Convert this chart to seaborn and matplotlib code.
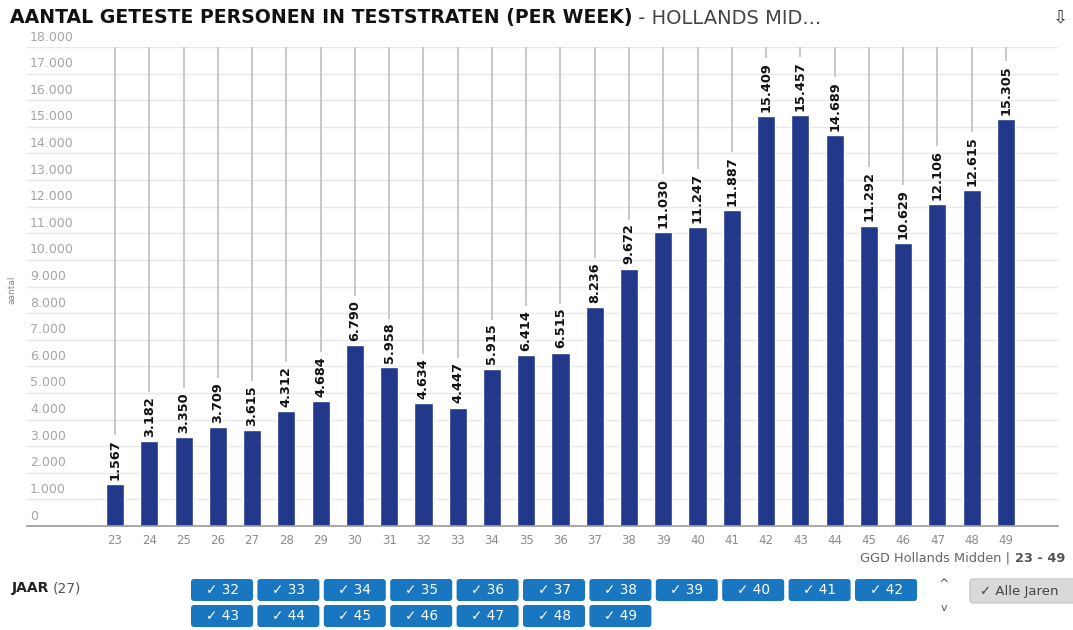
import matplotlib
matplotlib.use("Agg")
import matplotlib.pyplot as plt
import seaborn as sns
import pandas as pd
from matplotlib.patches import FancyBboxPatch
from matplotlib.transforms import blended_transform_factory

# data
weeks = [str(w) for w in range(23, 50)]
aantal = [1567, 3182, 3350, 3709, 3615, 4312, 4684, 6790, 5958, 4634, 4447,
          5915, 6414, 6515, 8236, 9672, 11030, 11247, 11887, 15409, 15457,
          14689, 11292, 10629, 12106, 12615, 15305]
y_ticks = list(range(0, 18001, 1000))
jaar_row1 = [str(w) for w in range(32, 43)]
jaar_row2 = [str(w) for w in range(43, 50)]

title_bold = "AANTAL GETESTE PERSONEN IN TESTSTRATEN (PER WEEK)"
title_rest = " - HOLLANDS MID..."
footer = "GGD Hollands Midden | "
footer_bold = "23 - 49"


def nl(n):
    return f"{n:,}".replace(",", ".")


df = pd.DataFrame({"week": weeks, "aantal": aantal})

sns.set_theme(style="white")
plt.rcParams["font.family"] = ["DejaVu Sans"]

W, H = 1073, 630
fig = plt.figure(figsize=(W / 100, H / 100), dpi=100)
fig.patch.set_facecolor("white")

# main chart area in pixel positions of the reference
left, right, top, bottom = 27, 1058, 47, 526
ax = fig.add_axes([left / W, 1 - bottom / H, (right - left) / W, (bottom - top) / H])

bar_color = "#22388a"
sns.barplot(data=df, x="week", y="aantal", order=weeks, color=bar_color,
            width=0.53, saturation=1, ax=ax, zorder=3)
ax.set_xlim(-2.57, 27.52)
ax.set_ylim(0, 18000)

for sp in ["top", "right", "left"]:
    ax.spines[sp].set_visible(False)
ax.spines["bottom"].set_color("#999999")
ax.spines["bottom"].set_linewidth(1.2)
ax.spines["bottom"].set_zorder(4)

# horizontal grid
for t in y_ticks[1:]:
    ax.axhline(t, color="#e8e8e8", lw=1, zorder=0)

# y tick labels sit on top of the gridlines, left aligned
ax.set_yticks([])
trans = blended_transform_factory(ax.transAxes, ax.transData)
for t in y_ticks:
    ax.annotate(nl(t), xy=(0.003, t), xycoords=trans, xytext=(0, 2.5),
                textcoords="offset points", ha="left", va="bottom",
                fontsize=9, color="#a5a5a5")

ax.set_xlabel("")
ax.set_ylabel("")
ax.tick_params(axis="x", length=0, pad=6, labelsize=8.5, labelcolor="#8c8c8c")
ax.tick_params(axis="y", length=0)

# value labels
labels = []
for i, v in enumerate(aantal):
    txt = ax.annotate(nl(v), xy=(i, v), xytext=(0, 3), textcoords="offset points",
                      ha="center", va="bottom", rotation=90, fontsize=9.3,
                      fontweight="bold", color="#111111", zorder=5)
    labels.append(txt)

# vertical connector lines from the label top to the top of the chart
fig.canvas.draw()
inv = ax.transData.inverted()
for i, txt in enumerate(labels):
    bb = txt.get_window_extent()
    y_top = inv.transform((bb.x0, bb.y1 + 4))[1]
    ax.vlines(i, y_top, 18000, color="#c8c8c8", lw=1.4, zorder=1)

fig.text(12 / W, 1 - 290 / H, "aantal", rotation=90, fontsize=6.5,
         color="#888888", ha="center", va="center")

# page chrome in pixel coordinates
ov = fig.add_axes([0, 0, 1, 1], zorder=-1)
ov.set_xlim(0, W)
ov.set_ylim(H, 0)
ov.axis("off")

t1 = ov.text(10, 18, title_bold, fontsize=13.6, fontweight="bold",
             color="#111111", va="center", ha="left")
fig.canvas.draw()
bb = t1.get_window_extent()
x_end = ov.transData.inverted().transform((bb.x1, bb.y0))[0]
ov.text(x_end, 18, title_rest, fontsize=14, color="#444444", va="center", ha="left")
ov.text(1060, 18, "\u21e9", fontsize=13, color="#333333", va="center", ha="center")

f2 = ov.text(1065, 558, footer_bold, fontsize=9.3, fontweight="bold",
             color="#555555", va="center", ha="right")
fig.canvas.draw()
bb = f2.get_window_extent()
x_start = ov.transData.inverted().transform((bb.x0, bb.y0))[0]
ov.text(x_start, 558, footer, fontsize=9.3, color="#666666", va="center", ha="right")

t_j = ov.text(12, 588, "JAAR", fontsize=10, fontweight="bold", color="#222222",
              va="center", ha="left")
fig.canvas.draw()
bb = t_j.get_window_extent()
xj = ov.transData.inverted().transform((bb.x1, bb.y0))[0]
ov.text(xj + 3, 588, "(27)", fontsize=10, color="#555555", va="center", ha="left")

btn_color = "#1877c0"
for row, (items, yc) in enumerate([(jaar_row1, 590), (jaar_row2, 616)]):
    for k, lab in enumerate(items):
        x0 = 191 + k * 66.4
        ov.add_patch(FancyBboxPatch((x0, yc - 11), 62, 22,
                                    boxstyle="round,pad=0,rounding_size=3",
                                    fc=btn_color, ec="none"))
        ov.text(x0 + 31, yc, "\u2713 " + lab, fontsize=9.8, color="white",
                va="center", ha="center")

ov.text(944, 584, "^", fontsize=9, color="#555555", va="center", ha="center")
ov.text(944, 608, "v", fontsize=8, color="#555555", va="center", ha="center")
ov.add_patch(FancyBboxPatch((970, 579), 110, 24, boxstyle="round,pad=0,rounding_size=3",
                            fc="#d9d9d9", ec="#c8c8c8"))
ov.text(980, 591, "\u2713 Alle Jaren", fontsize=9.5, color="#444444",
        va="center", ha="left")

fig.savefig("out.png", dpi=100)
